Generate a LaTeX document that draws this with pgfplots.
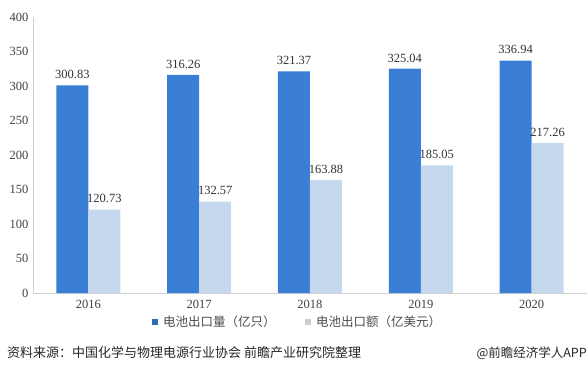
\documentclass[border=0pt]{standalone}
\usepackage{pgfplots}
\pgfplotsset{compat=1.18}
\usepackage{fontspec}
\setmainfont{Liberation Serif}
\newfontfamily\cjk{Noto Sans CJK SC}
\definecolor{darkb}{HTML}{3A7FD5}
\definecolor{lightb}{HTML}{C6D8EE}
\definecolor{axgray}{HTML}{D0D0D0}
\begin{document}
\begin{tikzpicture}
\useasboundingbox (0pt,0pt) rectangle (587pt,384pt);
\begin{axis}[
  at={(33pt,91pt)}, anchor=south west,
  scale only axis, width=554pt, height=276pt,
  xmin=-0.5, xmax=4.5, ymin=0, ymax=400,
  ytick={0,50,...,400},
  xtick={0,1,2,3,4},
  xticklabels={2016,2017,2018,2019,2020},
  axis x line*=bottom, axis y line*=left,
  x axis line style={axgray, -}, y axis line style={axgray, -},
  major tick length=0pt,
  tick label style={font=\fontsize{12.5}{14}\selectfont, text=black!75},
  /pgf/number format/assume math mode=true,
  yticklabel style={xshift=-1pt},
  xticklabel style={yshift=-4pt},
  ybar, bar width=32pt,
  nodes near coords,
  nodes near coords style={font=\fontsize{12.5}{14}\selectfont, text=black!80, yshift=3pt, /pgf/number format/fixed, /pgf/number format/precision=2, /pgf/number format/fixed zerofill},
]
\addplot[fill=darkb, draw=none, bar shift=-16pt] coordinates {(0,300.83) (1,316.26) (2,321.37) (3,325.04) (4,336.94)};
\addplot[fill=lightb, draw=none, bar shift=16pt] coordinates {(0,120.73) (1,132.57) (2,163.88) (3,185.05) (4,217.26)};
\end{axis}
\fill[darkb!85!black] (152pt,59pt) rectangle (158pt,65pt);
\node[anchor=west, font=\cjk\fontsize{12.5}{14}\selectfont, text=black!70, inner sep=0pt] at (163pt,62pt) {电池出口量（亿只）};
\fill[black!20] (305pt,59pt) rectangle (311pt,65pt);
\node[anchor=west, font=\cjk\fontsize{12.5}{14}\selectfont, text=black!70, inner sep=0pt] at (316pt,62pt) {电池出口额（亿美元）};
\node[anchor=west, font=\cjk\fontsize{13}{15}\selectfont, text=black!85, inner sep=0pt] at (7pt,31pt) {资料来源：中国化学与物理电源行业协会 前瞻产业研究院整理};
\node[anchor=east, font=\cjk\fontsize{12.5}{14}\selectfont, text=black!85, inner sep=0pt] at (587pt,31pt) {@前瞻经济学人APP};
\end{tikzpicture}
\end{document}
